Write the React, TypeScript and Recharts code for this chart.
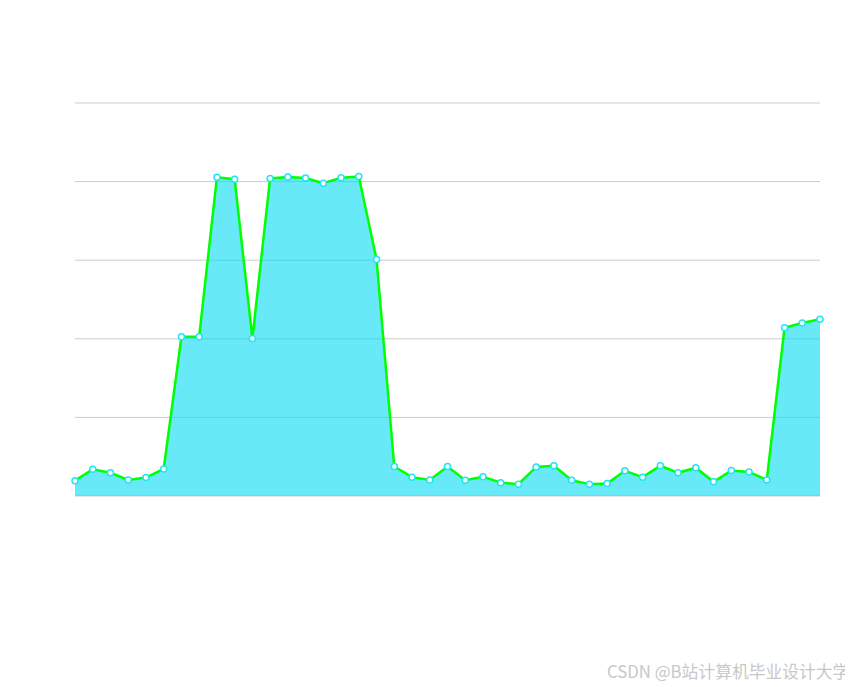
import React from 'react';
import { AreaChart, Area, XAxis, YAxis, CartesianGrid } from 'recharts';

const labels = Array.from({ length: 43 }, (_, i) => `P${i + 1}`);

const values = [
  3.9, 6.8, 5.9, 4.1, 4.7, 6.9, 40.5, 40.5, 81.1, 80.6,
  40.1, 80.8, 81.2, 80.9, 79.6, 81.0, 81.3, 60.2, 7.5, 4.8,
  4.1, 7.5, 4.0, 4.9, 3.4, 3.0, 7.4, 7.7, 4.0, 3.0,
  3.2, 6.4, 4.8, 7.7, 5.9, 7.2, 3.6, 6.5, 6.1, 4.1,
  42.8, 44.0, 45.0
];

const yTicks = [0, 20, 40, 60, 80, 100];

const data = labels.map((name, i) => ({ name, value: values[i] }));

export default function App() {
  return (
    <div style={{ position: 'relative', width: 845, height: 679 }}>
      <AreaChart
        width={845}
        height={679}
        data={data}
        margin={{ top: 95, right: 33, left: 67, bottom: 191 }}
      >
        <CartesianGrid vertical={false} stroke="#cccccc" />
        <XAxis dataKey="name" hide />
        <YAxis hide domain={[0, 100]} ticks={yTicks} />
        <Area
          type="linear"
          dataKey="value"
          stroke="#00ff00"
          strokeWidth={2.5}
          fill="#03daf2"
          fillOpacity={0.6}
          dot={{ r: 3, fill: '#ffffff', stroke: '#22e4f5', strokeWidth: 1.5, fillOpacity: 1 }}
          activeDot={false}
          isAnimationActive={false}
        />
      </AreaChart>
      <div
        style={{
          position: 'absolute',
          left: 599,
          top: 651,
          fontFamily: '"Noto Sans CJK SC", "Noto Sans", sans-serif',
          fontSize: 16.8,
          lineHeight: '24px',
          color: '#c8c8c8',
          whiteSpace: 'nowrap',
        }}
      >
        CSDN @B站计算机毕业设计大学
      </div>
    </div>
  );
}
